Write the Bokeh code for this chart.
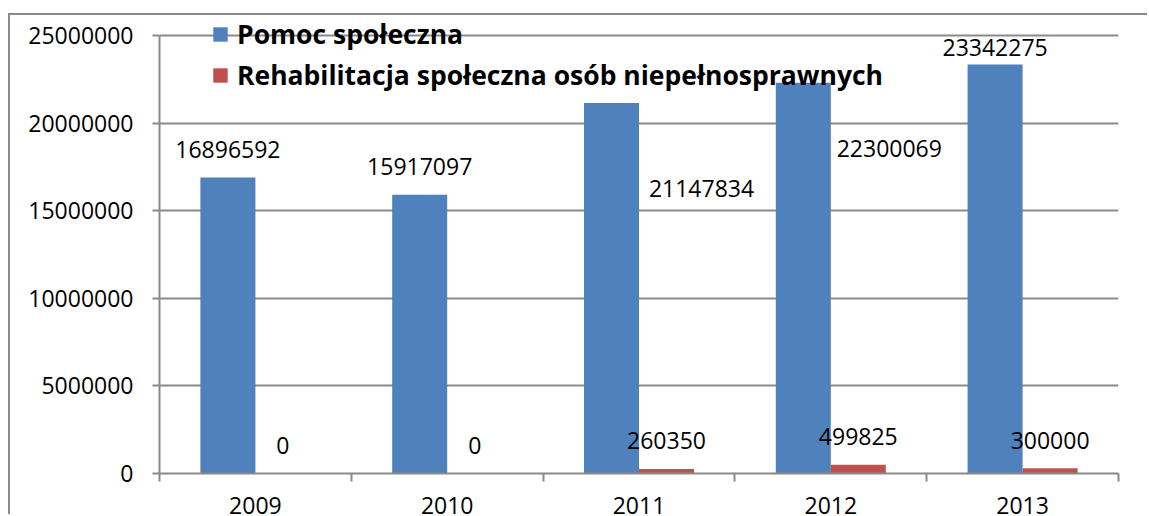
from bokeh.plotting import figure
from bokeh.models import (ColumnDataSource, Range1d, FixedTicker, BasicTickFormatter,
                          Legend, LegendItem)
from bokeh.core.properties import value
from bokeh.embed import file_html
from bokeh.resources import INLINE

# ---- data ----
years = ["2009", "2010", "2011", "2012", "2013"]
pomoc = [16896592, 15917097, 21147834, 22300069, 23342275]
rehab = [0, 0, 260350, 499825, 300000]
series_names = ["Pomoc społeczna", "Rehabilitacja społeczna osób niepełnosprawnych"]
y_ticks = [0, 5000000, 10000000, 15000000, 20000000, 25000000]
y_max = 25000000

# label placement tweaks (pixels), styling only
pomoc_lbl_dx = [0, 0, 90, 86, 0]
pomoc_lbl_dy = [-28, -28, 86, 66, -17]
rehab_lbl_dx = [0, 0, 0, 0, 0]
rehab_lbl_dy = [-28, -28, -28, -28, -28]

BLUE = "#4F81BD"
RED = "#C0504D"
GRAY = "#8A8A8A"
FONT_NAME = "Open Sans"
FONT = value(FONT_NAME)

n = len(years)
centers = [i + 0.5 for i in range(n)]
bw = 0.2868
half = bw / 2

# frame extends 20px above the top gridline so the legend fits inside it
FRAME_H = 458
AXIS_H = 438
y_top = y_max * FRAME_H / AXIS_H

src_p = ColumnDataSource(dict(x=[c - half for c in centers], top=pomoc,
                              lbl=[str(v) for v in pomoc], dx=pomoc_lbl_dx, dy=pomoc_lbl_dy))
src_r = ColumnDataSource(dict(x=[c + half for c in centers], top=rehab,
                              lbl=[str(v) for v in rehab], dx=rehab_lbl_dx, dy=rehab_lbl_dy))

p = figure(width=1139, height=501, output_backend="svg", toolbar_location=None,
           x_range=Range1d(0, n), y_range=Range1d(0, y_top),
           min_border_left=149, min_border_right=31, min_border_top=0, min_border_bottom=43,
           styles={"margin-left": "8px", "margin-top": "13px",
                   "border-left": f"2px solid {GRAY}", "border-top": f"2px solid {GRAY}"})
p.outline_line_color = None
p.background_fill_color = "white"
p.border_fill_color = "white"

r_p = p.vbar(x="x", top="top", width=bw, bottom=0, source=src_p, fill_color=BLUE, line_color=None)
r_r = p.vbar(x="x", top="top", width=bw, bottom=0, source=src_r, fill_color=RED, line_color=None)

p.text(x="x", y="top", text="lbl", source=src_p, x_offset="dx", y_offset="dy",
       text_align="center", text_baseline="middle", text_font=FONT,
       text_font_size="23px", text_color="black")
p.text(x="x", y="top", text="lbl", source=src_r, x_offset="dx", y_offset="dy",
       text_align="center", text_baseline="middle", text_font=FONT,
       text_font_size="23px", text_color="black")

# axes
p.xaxis.ticker = FixedTicker(ticks=centers, minor_ticks=list(range(n + 1)))
p.xaxis.major_label_overrides = {c: y for c, y in zip(centers, years)}
p.xaxis.major_tick_line_color = None
p.xaxis.major_tick_out = 0
p.xaxis.major_tick_in = 0
p.xaxis.minor_tick_out = 8
p.xaxis.minor_tick_in = 0
p.xaxis.minor_tick_line_color = GRAY
p.xaxis.minor_tick_line_width = 2
p.xaxis.major_label_standoff = 15

p.yaxis.ticker = FixedTicker(ticks=y_ticks)
p.yaxis.formatter = BasicTickFormatter(use_scientific=False)
p.yaxis.bounds = (0, y_max)
p.yaxis.major_tick_out = 7
p.yaxis.major_tick_in = 0
p.yaxis.minor_tick_line_color = None
p.yaxis.major_tick_line_color = GRAY
p.yaxis.major_tick_line_width = 2
p.yaxis.major_label_standoff = 19

for ax in (p.xaxis, p.yaxis):
    ax.axis_line_color = GRAY
    ax.axis_line_width = 2
    ax.major_label_text_font = FONT_NAME
    ax.major_label_text_font_size = "23px"
    ax.major_label_text_color = "black"

p.xgrid.grid_line_color = None
p.ygrid.ticker = FixedTicker(ticks=y_ticks)
p.ygrid.grid_line_color = GRAY
p.ygrid.grid_line_width = 2

legend = Legend(items=[LegendItem(label=series_names[0], renderers=[r_p]),
                       LegendItem(label=series_names[1], renderers=[r_r])],
                location=(52, 380), orientation="vertical",
                glyph_width=18, glyph_height=18, label_height=36, label_standoff=8,
                spacing=5, padding=0, margin=0,
                background_fill_alpha=0, border_line_color=None,
                label_text_font=FONT_NAME, label_text_font_size="26.5px",
                label_text_font_style="bold", label_text_color="black")
p.add_layout(legend, "center")

open("out.html", "w").write(file_html(p, INLINE))
